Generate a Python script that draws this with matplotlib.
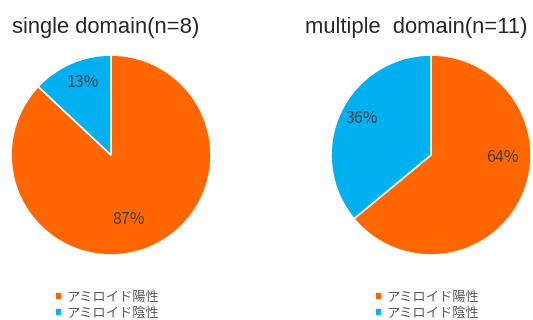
import numpy as np
import matplotlib.pyplot as plt

plt.rcParams['font.family'] = ['Noto Sans CJK JP', 'DejaVu Sans']

# percentages shown on each pie
categories = ['アミロイド陽性', 'アミロイド陰性']
single_pct = [87, 13]
multiple_pct = [64, 36]
titles = ['single domain(n=8)', 'multiple  domain(n=11)']
colors = ['#FF6600', '#00B0F0']

W, H = 533, 320
fig = plt.figure(figsize=(W / 100, H / 100), dpi=100)


def pie_axes(cx, cy, r):
    # axes in pixel terms -> figure fraction
    return fig.add_axes([(cx - r) / W, (H - cy - r) / H, 2 * r / W, 2 * r / H])


# label positions (fraction of radius, angle in degrees) per wedge
label_pos = [
    [(0.67, -75), (0.78, 111)],
    [(0.71, -2), (0.78, 152)],
]

panels = [(111, 155, single_pct), (431, 155, multiple_pct)]
for i, (cx, cy, vals) in enumerate(panels):
    ax = pie_axes(cx, cy, 100)
    wedges, _ = ax.pie(vals, colors=colors, startangle=90, counterclock=False,
                       wedgeprops=dict(edgecolor='white', linewidth=1.2))
    ax.set_xlim(-1, 1)
    ax.set_ylim(-1, 1)
    ax.set_aspect('equal')
    for v, (rr, ang) in zip(vals, label_pos[i]):
        a = np.deg2rad(ang)
        ax.text(rr * np.cos(a), rr * np.sin(a), f'{v}%', ha='center', va='center',
                fontsize=11.5, color='#404040')
    lx = [48, 368][i]
    ax.legend(wedges, categories, loc='upper left', frameon=False,
              bbox_to_anchor=(lx / W, 1 - 284 / H), bbox_transform=fig.transFigure,
              handlelength=0.55, handleheight=0.55, handletextpad=0.35,
              labelspacing=0.25, fontsize=9.5, labelcolor='#595959', borderpad=0)

fig.text(12 / W, 1 - 27 / H, titles[0], ha='left', va='center', fontsize=15.8,
         family='Liberation Sans', color='#262626')
fig.text(305 / W, 1 - 27 / H, titles[1], ha='left', va='center', fontsize=15.8,
         family='Liberation Sans', color='#262626')

fig.savefig('out.png', dpi=100, facecolor='white')
